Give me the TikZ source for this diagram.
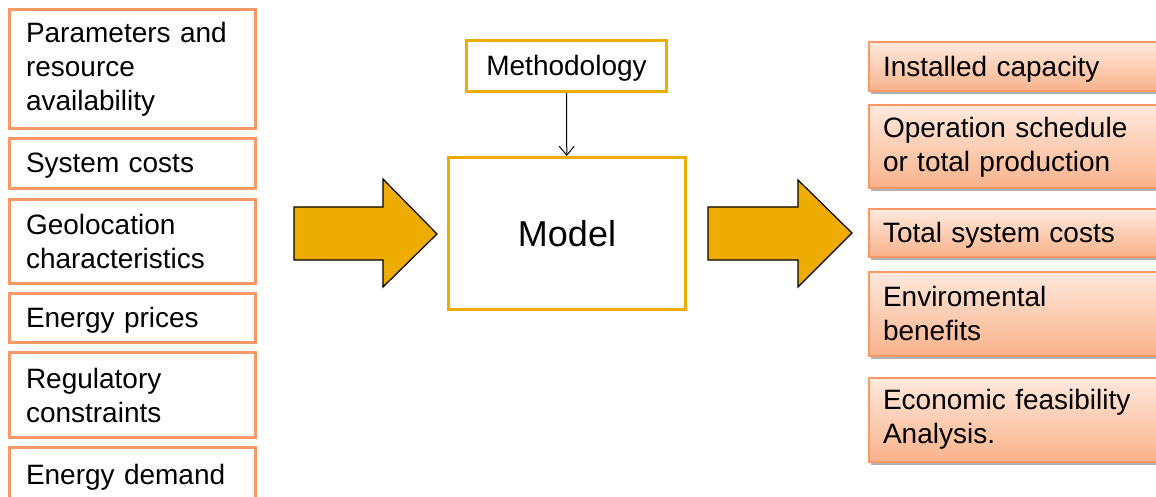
\documentclass[tikz,border=0pt]{standalone}
\usepackage{fontspec}
\setmainfont{Liberation Sans}
\usepackage{tikz}
\usetikzlibrary{arrows.meta,shadows}
\definecolor{boxorange}{RGB}{250,152,102}
\definecolor{arrgold}{RGB}{238,172,0}
\definecolor{outtop}{RGB}{254,233,222}
\definecolor{outbot}{RGB}{249,178,138}

\begin{document}
\begin{tikzpicture}[x=1pt,y=-1pt,
  inbox/.style={draw=boxorange,line width=3pt,inner sep=0pt,minimum width=246pt,
    text width=213pt,align=left,font=\fontsize{28}{34}\selectfont},
  outbox/.style={draw=boxorange,line width=2pt,inner sep=0pt,minimum width=301.5pt,
    text width=272.5pt,align=left,font=\fontsize{28}{34}\selectfont,
    top color=outtop,bottom color=outbot,
    drop shadow={shadow xshift=2pt,shadow yshift=-3pt,fill=black,opacity=0.3}},
  oneline/.style={text depth=1.5pt},
  goldbox/.style={draw=arrgold,line width=3pt,fill=white,inner sep=0pt},
  fatarrow/.style={fill=arrgold,draw=black,line width=1.2pt,line join=miter}]
\useasboundingbox (0,0) rectangle (1156,497);

% inputs
\node[inbox,minimum height=119pt] (par) at (132.5,69) {Parameters and\\resource\\availability};
\node[inbox,oneline,minimum height=50pt] (cost) at (132.5,163.5) {System costs};
\node[inbox,minimum height=84pt] (geo) at (132.5,241.5) {Geolocation\\characteristics};
\node[inbox,oneline,minimum height=49pt] (price) at (132.5,318) {Energy prices};
\node[inbox,minimum height=85pt] (reg) at (132.5,395) {Regulatory\\constraints};
\node[inbox,oneline,minimum height=55pt] (dem) at (132.5,475) {Energy demand};

% model
\node[goldbox,oneline,minimum width=200pt,minimum height=51pt,
  font=\fontsize{28}{34}\selectfont] (meth) at (566.5,66) {Methodology};
\node[goldbox,minimum width=237pt,minimum height=152pt,font=\fontsize{36}{43}\selectfont]
  (model) at (567,233.5) {Model};
\draw[line width=1pt,-{Straight Barb[length=9pt,width=15pt]}] (meth) -- (model);

% big arrows
\draw[fatarrow] (294,207) -- (383,207) -- (383,179) -- (437,234) -- (383,287)
  -- (383,260) -- (294,260) -- cycle;
\draw[fatarrow] (708,207) -- (798,207) -- (798,180) -- (852,233) -- (798,287)
  -- (798,260) -- (708,260) -- cycle;

% outputs
\node[outbox,oneline,minimum height=49pt] (cap) at (1019.25,67) {Installed capacity};
\node[outbox,minimum height=83pt] (oper) at (1019.25,147) {Operation schedule\\or total production};
\node[outbox,oneline,minimum height=48pt] (tot) at (1019.25,233) {Total system costs};
\node[outbox,minimum height=84pt] (env) at (1019.25,313.5) {Enviromental\\benefits};
\node[outbox,minimum height=84pt] (eco) at (1019.25,419.5) {Economic feasibility\\Analysis.};
\end{tikzpicture}
\end{document}
